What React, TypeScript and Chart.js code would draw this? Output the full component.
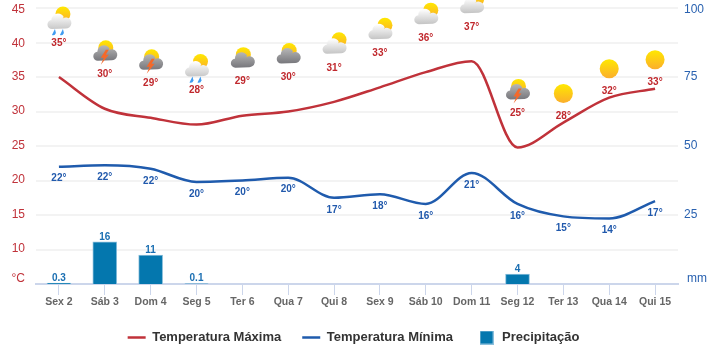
import React, { useEffect, useRef } from "react";
import { Chart, registerables } from "chart.js";

Chart.register(...registerables);

const categories = ["Sex 2", "Sáb 3", "Dom 4", "Seg 5", "Ter 6", "Qua 7", "Qui 8", "Sex 9", "Sáb 10", "Dom 11", "Seg 12", "Ter 13", "Qua 14", "Qui 15"];
const tempMax = [35, 30.4, 29.1, 28.1, 29.4, 30, 31.4, 33.5, 35.7, 37.3, 24.8, 28.4, 32, 33.3];
const tempMin = [22, 22.2, 21.7, 19.8, 20, 20.4, 17.5, 18, 16.6, 21.1, 16.6, 14.8, 14.5, 17];
const precip = [0.3, 15.3, 10.5, 0.1, null, null, null, null, null, null, 3.6, null, null, null];
const maxLabels = ["35°", "30°", "29°", "28°", "29°", "30°", "31°", "33°", "36°", "37°", "25°", "28°", "32°", "33°"];
const minLabels = ["22°", "22°", "22°", "20°", "20°", "20°", "17°", "18°", "16°", "21°", "16°", "15°", "14°", "17°"];
const precipLabels = ["0.3", "16", "11", "0.1", "", "", "", "", "", "", "4", "", "", ""];
const icons = ["rain", "storm", "storm", "rain", "dark", "dark", "light", "light", "light", "light", "storm", "sun", "sun", "sun"];

const FONT = '"Liberation Sans", Arial, sans-serif';
const RED = "#c0282d";
const BLUE = "#2159ac";
const BAR = "#0477ae";
const BAR_EDGE = "#8cc0dc";

function sun(ctx: CanvasRenderingContext2D, x: number, y: number, r: number) {
  const g = ctx.createLinearGradient(0, y - r, 0, y + r);
  g.addColorStop(0, "#ffe800");
  g.addColorStop(1, "#fbae2c");
  ctx.fillStyle = g;
  ctx.beginPath();
  ctx.arc(x, y, r, 0, Math.PI * 2);
  ctx.fill();
}

function cloud(ctx: CanvasRenderingContext2D, x: number, y: number, top: string, bottom: string) {
  const g = ctx.createLinearGradient(0, y - 8, 0, y + 7);
  g.addColorStop(0, top);
  g.addColorStop(1, bottom);
  ctx.fillStyle = g;
  ctx.beginPath();
  ctx.arc(x - 7, y + 2.5, 4.5, Math.PI * 0.5, Math.PI * 1.5);
  ctx.arc(x - 1, y - 2, 6.5, Math.PI, Math.PI * 1.85);
  ctx.arc(x + 7, y + 1, 5.5, Math.PI * 1.3, Math.PI * 0.5);
  ctx.closePath();
  ctx.fill();
}

function drop(ctx: CanvasRenderingContext2D, x: number, y: number) {
  ctx.fillStyle = "#3f9bf0";
  ctx.beginPath();
  ctx.moveTo(x - 2, y + 6);
  ctx.lineTo(x + 1, y);
  ctx.lineTo(x + 2, y + 4);
  ctx.quadraticCurveTo(x + 1, y + 7, x - 2, y + 6);
  ctx.fill();
}

function bolt(ctx: CanvasRenderingContext2D, x: number, y: number) {
  ctx.fillStyle = "#f4692a";
  ctx.beginPath();
  ctx.moveTo(x + 1, y - 6);
  ctx.lineTo(x - 4, y + 2);
  ctx.lineTo(x - 1, y + 2);
  ctx.lineTo(x - 4, y + 9);
  ctx.lineTo(x + 4, y - 1);
  ctx.lineTo(x + 1, y - 1);
  ctx.lineTo(x + 4, y - 6);
  ctx.closePath();
  ctx.fill();
}

function drawIcon(ctx: CanvasRenderingContext2D, kind: string, x: number, y: number) {
  if (kind === "sun") {
    sun(ctx, x, y, 9.5);
  } else if (kind === "light") {
    sun(ctx, x + 5, y - 7, 7.5);
    cloud(ctx, x, y, "#ffffff", "#c4c4c4");
  } else if (kind === "rain") {
    sun(ctx, x + 4, y - 8, 7.5);
    cloud(ctx, x, y, "#ffffff", "#c8c8c8");
    drop(ctx, x - 5, y + 7);
    drop(ctx, x + 3, y + 7);
  } else {
    sun(ctx, x + 1, y - 6, 7.5);
    cloud(ctx, x, y, "#b5b5b5", "#77777c");
    if (kind === "storm") bolt(ctx, x, y + 2);
  }
}

function barSwatch() {
  const c = document.createElement("canvas");
  c.width = 14;
  c.height = 14;
  const g = c.getContext("2d") as CanvasRenderingContext2D;
  g.fillStyle = BAR_EDGE;
  g.fillRect(0, 0, 14, 14);
  g.fillStyle = BAR;
  g.fillRect(1, 1, 12, 12);
  return c;
}

const labelsPlugin = {
  id: "weatherLabels",
  beforeDraw(chart: any) {
    const { y: left, y1: right } = chart.scales;
    const area = chart.chartArea;
    for (const scale of [left, right]) {
      for (const item of scale.getLabelItems()) {
        const py = item.options.translation[1];
        const t = (py - area.top) / (area.bottom - area.top);
        const unit = item.label === "mm" || item.label === "°C";
        item.options.translation = [
          item.options.translation[0] + (item.label === "mm" ? 3 : 0),
          py + (unit ? -5 : Math.max(2 - 8 * t, -0.5)),
        ];
      }
    }
    chart.legend.left -= 5;
    chart.legend.right -= 5;
  },
  afterDatasetsDraw(chart: any) {
    const ctx: CanvasRenderingContext2D = chart.ctx;
    const maxPts = chart.getDatasetMeta(0).data;
    const minPts = chart.getDatasetMeta(1).data;
    const barPts = chart.getDatasetMeta(2).data;
    ctx.save();
    ctx.textAlign = "center";
    ctx.textBaseline = "middle";
    maxPts.forEach((p: any, i: number) => {
      const labelY = p.y + (icons[i] === "sun" ? -6 : -34);
      drawIcon(ctx, icons[i], p.x, labelY - (icons[i] === "sun" ? 23 : 21));
      ctx.font = `bold 10px ${FONT}`;
      ctx.fillStyle = RED;
      ctx.fillText(maxLabels[i], p.x, labelY);
    });
    minPts.forEach((p: any, i: number) => {
      ctx.font = `bold 10px ${FONT}`;
      ctx.fillStyle = BLUE;
      ctx.fillText(minLabels[i], p.x, p.y + 12);
    });
    barPts.forEach((p: any, i: number) => {
      if (!precipLabels[i]) return;
      ctx.font = `bold 10px ${FONT}`;
      ctx.fillStyle = "#1b6fb2";
      ctx.fillText(precipLabels[i], p.x, p.y - 5);
    });
    ctx.restore();
  },
};

export default function App() {
  const ref = useRef<HTMLCanvasElement>(null);
  useEffect(() => {
    const swatch = barSwatch();
    const chart = new Chart(ref.current as HTMLCanvasElement, {
      type: "bar",
      plugins: [labelsPlugin],
      data: {
        labels: categories,
        datasets: [
          { type: "line", label: "Temperatura Máxima", data: tempMax, borderColor: "#c0323a", backgroundColor: "#c0323a", borderWidth: 2.5, pointRadius: 0, cubicInterpolationMode: "monotone", yAxisID: "y", order: 1, pointStyle: "line" },
          { type: "line", label: "Temperatura Mínima", data: tempMin, borderColor: "#1f5bad", backgroundColor: "#1f5bad", borderWidth: 2.5, pointRadius: 0, cubicInterpolationMode: "monotone", yAxisID: "y", order: 1, pointStyle: "line" },
          { type: "bar", label: "Precipitação", data: precip, backgroundColor: BAR, borderColor: BAR_EDGE, borderWidth: 1, barThickness: 24, yAxisID: "y1", order: 2, pointStyle: "rect" },
        ],
      } as any,
      options: {
        responsive: false,
        animation: false,
        layout: { padding: { top: 8, bottom: 3, left: 0, right: 0 } },
        plugins: {
          tooltip: { enabled: false },
          legend: {
            position: "bottom",
            labels: {
              usePointStyle: true,
              pointStyleWidth: 18,
              boxHeight: 14,
              padding: 21,
              color: "#333333",
              font: { family: FONT, size: 13, weight: "bold" },
              generateLabels(c: any) {
                const items = Chart.defaults.plugins.legend.labels.generateLabels(c);
                items[1].text = items[1].text + " ";
                items[2].pointStyle = swatch;
                return items;
              },
            },
          },
        },
        scales: {
          x: {
            afterFit(s: any) { s.height = 26; },
            grid: { offset: false, drawOnChartArea: false, tickLength: 11, tickColor: "#ccd6eb", lineWidth: 1 },
            border: { color: "#ccd6eb", width: 2 },
            ticks: { color: "#666666", padding: 1, autoSkip: false, maxRotation: 0, font: { family: FONT, size: 10.5, weight: "bold" } },
          },
          y: {
            position: "left",
            min: 5,
            max: 45,
            afterFit(s: any) { s.width = 36; s.paddingTop = 0; s.paddingBottom = 0; },
            afterBuildTicks(s: any) { s.ticks = [45, 40, 35, 30, 25, 20, 15, 10, 5].map((value) => ({ value })); },
            grid: { color: "#f3f3f3", lineWidth: 2, drawTicks: false },
            border: { display: false },
            ticks: { padding: 11, color: "#c0323a", font: { family: FONT, size: 12 }, callback: (v: any) => (v === 5 ? "°C" : String(v)) },
          },
          y1: {
            position: "right",
            min: 0,
            max: 100,
            afterFit(s: any) { s.width = 39; s.paddingTop = 0; s.paddingBottom = 0; },
            afterBuildTicks(s: any) { s.ticks = [100, 75, 50, 25, 0].map((value) => ({ value })); },
            grid: { display: false, drawTicks: false },
            border: { display: false },
            ticks: { padding: 6, color: "#2a62b0", font: { family: FONT, size: 12 }, callback: (v: any) => (v === 0 ? "mm" : String(v)) },
          },
        },
      },
    } as any);
    return () => chart.destroy();
  }, []);
  return (
    <div style={{ position: "fixed", left: 0, top: 0, width: 717, height: 357, background: "#fff" }}>
      <canvas ref={ref} width={717} height={357} style={{ display: "block" }} />
    </div>
  );
}
